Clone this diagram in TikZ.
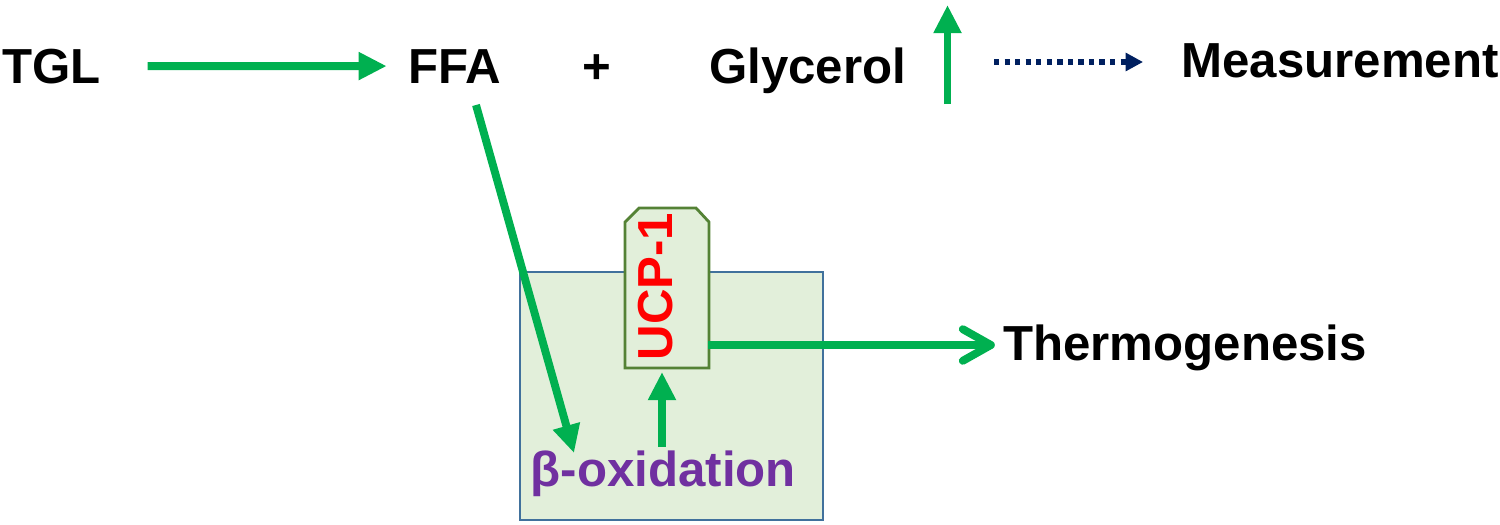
\documentclass[tikz,border=0pt]{standalone}
\usepackage{fontspec}
\setmainfont{Liberation Sans}
\usepackage{tikz}
\usetikzlibrary{arrows.meta, calc}
\definecolor{leafgreen}{HTML}{00B050}
\definecolor{assaynavy}{HTML}{002060}
\definecolor{oxpurple}{HTML}{7030A0}
\definecolor{ucpred}{HTML}{FF0000}
\definecolor{cellfill}{HTML}{E2EFDA}
\definecolor{cellborder}{HTML}{41719C}
\definecolor{ucpborder}{HTML}{548235}

\begin{document}
\begin{tikzpicture}[x=0.02cm, y=-0.02cm,
    font=\bfseries\fontsize{28}{34}\selectfont,
    word/.style={inner sep=0pt, anchor=base},
    flow/.style={draw=leafgreen, line width=4.5pt,
      -{Triangle[length=16pt,width=15pt]}},
    heat/.style={draw=leafgreen, line width=4.5pt,
      -{Straight Barb[length=16pt,width=18pt,round]}},
    assay/.style={draw=assaynavy, line width=3.2pt,
      dash pattern=on 3pt off 3pt, -{Triangle[length=10pt,width=10pt]}},
    cellbox/.style={fill=cellfill, draw=cellborder, line width=1.2pt},
    ucpbox/.style={fill=cellfill, draw=ucpborder, line width=1.6pt}]
    \useasboundingbox (0,0) rectangle (1500,524);
    % cell with the UCP-1 carrier
    \draw[cellbox] (520,272) rectangle (823,520);
    \draw[ucpbox] (625,368) -- (625,222) -- (639,208) -- (696,208)
      -- (709,222) -- (709,368) -- cycle;
    \node[word, rotate=90, anchor=center, text=ucpred] (ucp) at (655.5,286.5) {UCP-1};

    \node[word] (tgl) at (51.5,83) {TGL};
    \node[word] (ffa) at (455,83) {FFA};
    \node[word] (plus) at (597,83) {+};
    \node[word] (gly) at (807.5,83) {Glycerol};
    \node[word] (meas) at (1340,77) {Measurement};
    \node[word] (thermo) at (1185,360) {Thermogenesis};
    \node[word, text=oxpurple] (beta) at (663.5,486) {β-oxidation};

    \coordinate (ffaout) at (476,105);
    \coordinate (betain) at (574,453);
    \coordinate (glylow) at (947.5,104);
    \coordinate (glyhigh) at (947.5,5);
    \coordinate (assayout) at (994,62);
    \coordinate (ucpout) at (708,345);
    \coordinate (ucpin) at (662,372);

    \draw[flow, shorten <=0.93cm, shorten >=0.43cm] (tgl) -- (ffa);
    \draw[flow] (ffaout) -- (betain);
    \draw[flow] (glylow) -- (glyhigh);
    \draw[assay, shorten >=0.76cm] (assayout) -- (assayout -| meas.west);
    \draw[heat, shorten >=0.16cm] (ucpout) -- (ucpout -| thermo.west);
    \draw[flow, shorten <=0.06cm] (beta.north -| ucpin) -- (ucpin);
  \end{tikzpicture}
\end{document}
